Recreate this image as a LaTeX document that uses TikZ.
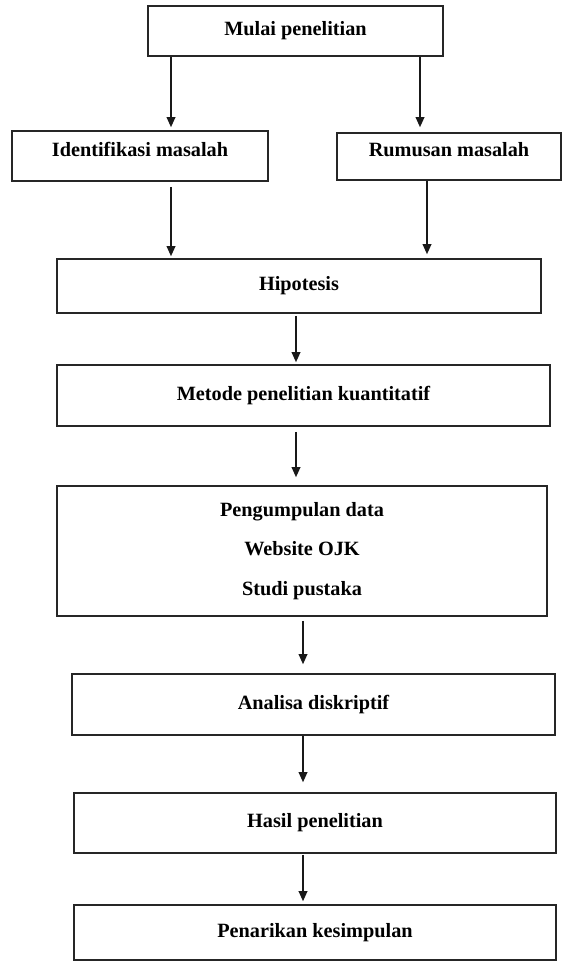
\documentclass[tikz,border=0pt]{standalone}
\usepackage{fontspec}
\setmainfont{Liberation Serif}
\usetikzlibrary{arrows.meta,calc}
\begin{document}
\begin{tikzpicture}[x=0.75pt,y=-0.75pt,
  box/.style={draw=black!85,line width=1.2pt,rectangle,inner sep=0pt,align=center,
    font=\fontsize{15.2}{18}\selectfont\bfseries},
  arr/.style={draw=black!90,line width=1pt,-{Triangle[width=6.5pt,length=7.5pt]}}]
\useasboundingbox (0,0) rectangle (563,961);
\node[box,minimum width=221.25pt,minimum height=37.5pt] (mulai) at (295.5,31) {Mulai penelitian};
\node[box,minimum width=192pt,minimum height=37.5pt] (idt) at (140,156) {\raisebox{0pt}[0pt][0pt]{Identifikasi masalah}};
\node[box,minimum width=168pt,minimum height=35.25pt] (rum) at (449,156.5) {\raisebox{0pt}[0pt][0pt]{Rumusan masalah}};
\node[box,minimum width=363pt,minimum height=40.5pt] (hip) at (299,286) {Hipotesis};
\node[box,minimum width=369.75pt,minimum height=45.75pt] (met) at (303.5,395.5) {Metode penelitian kuantitatif};
\node[box,minimum width=367.5pt,minimum height=97.5pt,
  font=\fontsize{15.2}{29.8}\selectfont\bfseries] (kum) at (302,551) {Pengumpulan data\\Website OJK\\Studi pustaka};
\node[box,minimum width=362.25pt,minimum height=45.75pt] (ana) at (313.5,704.5) {Analisa diskriptif};
\node[box,minimum width=361.5pt,minimum height=45pt] (has) at (315,823) {Hasil penelitian};
\node[box,minimum width=361.5pt,minimum height=41.25pt] (pen) at (315,932.5) {Penarikan kesimpulan};
\coordinate (xa) at (171,0);
\coordinate (xb) at (420,0);
\coordinate (xc) at (427,0);
\coordinate (xd) at (296,0);
\coordinate (xe) at (303,0);
\draw[arr] (mulai.south -| xa) -- ($(idt.north -| xa)+(0,-3)$);
\draw[arr] (mulai.south -| xb) -- ($(rum.north -| xb)+(0,-5)$);
\draw[arr] ($(idt.south -| xa)+(0,5)$) -- ($(hip.north -| xa)+(0,-2)$);
\draw[arr] (rum.south -| xc) -- ($(hip.north -| xc)+(0,-4)$);
\draw[arr] ($(hip.south -| xd)+(0,2)$) -- ($(met.north -| xd)+(0,-2)$);
\draw[arr] ($(met.south -| xd)+(0,5)$) -- ($(kum.north -| xd)+(0,-8)$);
\draw[arr] ($(kum.south -| xe)+(0,4)$) -- ($(ana.north -| xe)+(0,-9)$);
\draw[arr] (ana.south -| xe) -- ($(has.north -| xe)+(0,-10)$);
\draw[arr] ($(has.south -| xe)+(0,1)$) -- ($(pen.north -| xe)+(0,-3)$);
\end{tikzpicture}
\end{document}
